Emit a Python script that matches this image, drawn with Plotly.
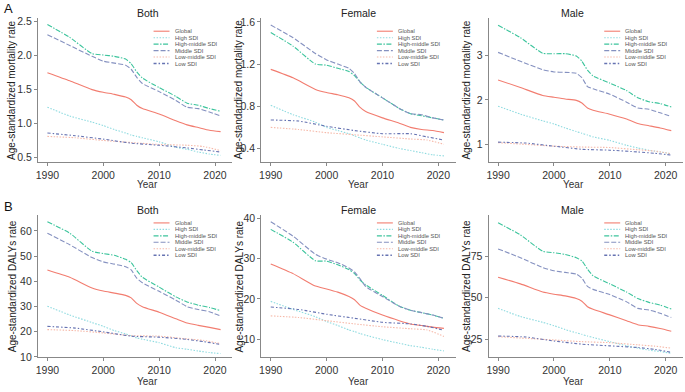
import plotly.graph_objects as go

# ---------------- data ----------------
YEARS = [1990, 1994, 1998, 2000, 2002, 2004, 2005, 2006, 2007, 2010, 2013, 2015, 2017, 2019, 2021]
YEARS_LOW = [1990, 1995, 2000, 2005, 2010, 2015, 2018, 2021]

SERIES = ["Global", "High SDI", "High-middle SDI", "Middle SDI", "Low-middle SDI", "Low SDI"]
PANEL_TITLES = ["Both", "Female", "Male", "Both", "Female", "Male"]
X_TICKS = [1990, 2000, 2010, 2020]

# A: age-standardized mortality rate
mort_both_global = [1.75, 1.63, 1.50, 1.46, 1.43, 1.39, 1.35, 1.27, 1.22, 1.14, 1.04, 0.98, 0.94, 0.90, 0.88]
mort_both_high = [1.24, 1.11, 1.02, 0.97, 0.91, 0.86, 0.83, 0.81, 0.79, 0.73, 0.65, 0.62, 0.58, 0.55, 0.53]
mort_both_highmid = [2.46, 2.27, 2.03, 2.01, 1.99, 1.95, 1.88, 1.76, 1.67, 1.53, 1.40, 1.30, 1.27, 1.22, 1.18]
mort_both_mid = [2.31, 2.15, 1.99, 1.92, 1.89, 1.86, 1.80, 1.68, 1.59, 1.47, 1.34, 1.24, 1.22, 1.17, 1.11]
mort_both_lowmid = [0.81, 0.79, 0.75, 0.72, 0.69, 0.68, 0.66, 0.60]
mort_both_low = [0.86, 0.82, 0.77, 0.71, 0.68, 0.64, 0.61, 0.58]

mort_fem_global = [1.15, 1.07, 0.96, 0.93, 0.91, 0.88, 0.85, 0.79, 0.75, 0.69, 0.64, 0.60, 0.58, 0.57, 0.55]
mort_fem_high = [0.81, 0.72, 0.65, 0.60, 0.57, 0.54, 0.52, 0.50, 0.48, 0.44, 0.40, 0.38, 0.36, 0.34, 0.33]
mort_fem_highmid = [1.50, 1.37, 1.20, 1.19, 1.16, 1.13, 1.09, 1.03, 0.98, 0.88, 0.78, 0.73, 0.71, 0.69, 0.67]
mort_fem_mid = [1.57, 1.45, 1.30, 1.24, 1.20, 1.16, 1.11, 1.03, 0.98, 0.88, 0.78, 0.73, 0.72, 0.69, 0.67]
mort_fem_lowmid = [0.60, 0.58, 0.55, 0.53, 0.51, 0.49, 0.48, 0.44]
mort_fem_low = [0.67, 0.66, 0.61, 0.57, 0.54, 0.54, 0.51, 0.48]

mort_male_global = [2.45, 2.28, 2.10, 2.06, 2.02, 1.99, 1.93, 1.82, 1.77, 1.68, 1.57, 1.47, 1.42, 1.37, 1.31]
mort_male_high = [1.86, 1.68, 1.53, 1.46, 1.37, 1.29, 1.25, 1.21, 1.17, 1.09, 0.98, 0.92, 0.87, 0.83, 0.79]
mort_male_highmid = [3.68, 3.40, 3.05, 3.04, 3.04, 2.99, 2.87, 2.67, 2.54, 2.38, 2.21, 2.05, 1.96, 1.92, 1.84]
mort_male_mid = [3.07, 2.87, 2.68, 2.63, 2.62, 2.60, 2.50, 2.30, 2.25, 2.13, 1.95, 1.82, 1.79, 1.71, 1.63]
mort_male_lowmid = [1.04, 1.00, 0.96, 0.94, 0.93, 0.88, 0.85, 0.79]
mort_male_low = [1.05, 1.03, 0.96, 0.89, 0.87, 0.83, 0.80, 0.76]

# B: age-standardized DALYs rate
daly_both_global = [44.5, 41.6, 37.3, 36.1, 35.3, 34.4, 33.4, 31.2, 29.9, 27.7, 25.1, 23.4, 22.5, 21.7, 20.8]
daly_both_high = [30.1, 26.6, 23.6, 22.1, 20.4, 19.1, 18.3, 17.5, 17.0, 15.6, 13.6, 13.0, 12.3, 11.7, 11.3]
daly_both_highmid = [63.6, 59.1, 51.9, 51.0, 50.3, 48.7, 47.4, 44.2, 41.6, 37.7, 33.8, 31.8, 30.5, 29.6, 28.3]
daly_both_mid = [59.1, 54.5, 49.4, 47.7, 46.8, 45.8, 44.5, 41.2, 39.4, 36.0, 32.5, 29.9, 28.8, 27.9, 26.2]
daly_both_lowmid = [20.8, 20.4, 19.5, 18.4, 18.2, 17.1, 16.5, 15.2]
daly_both_low = [22.1, 21.4, 19.9, 18.2, 17.8, 16.9, 16.0, 14.9]

daly_fem_global = [28.7, 26.3, 23.2, 22.5, 21.7, 20.6, 19.8, 18.4, 17.7, 16.0, 14.6, 13.8, 13.4, 13.0, 12.7]
daly_fem_high = [19.4, 17.4, 15.6, 14.4, 13.4, 12.3, 11.9, 11.4, 11.0, 9.9, 9.0, 8.4, 8.0, 7.5, 7.1]
daly_fem_highmid = [37.3, 34.1, 29.5, 29.4, 28.5, 27.3, 26.3, 24.7, 23.5, 20.9, 18.2, 17.2, 16.6, 16.0, 15.2]
daly_fem_mid = [39.2, 35.6, 31.1, 29.9, 29.0, 27.7, 26.7, 25.0, 23.1, 20.6, 18.2, 17.2, 16.6, 16.0, 15.2]
daly_fem_lowmid = [15.8, 15.4, 14.6, 13.8, 13.1, 12.6, 12.3, 10.7]
daly_fem_low = [18.0, 17.4, 16.2, 15.2, 14.2, 13.8, 13.2, 12.2]

daly_male_global = [62.3, 58.3, 53.4, 52.1, 51.1, 49.5, 47.9, 44.6, 43.0, 39.7, 36.2, 33.8, 32.8, 31.5, 29.9]
daly_male_high = [43.6, 38.7, 35.2, 33.2, 30.9, 28.9, 28.0, 27.0, 26.1, 23.6, 21.1, 19.7, 18.5, 17.7, 16.6]
daly_male_highmid = [95.0, 87.7, 77.9, 77.0, 76.0, 74.0, 72.1, 67.2, 63.2, 58.3, 53.4, 49.5, 47.2, 45.6, 43.2]
daly_male_mid = [79.3, 74.0, 68.1, 66.2, 65.2, 64.2, 61.7, 56.8, 55.0, 51.9, 47.5, 43.6, 42.6, 40.7, 38.1]
daly_male_lowmid = [26.6, 25.6, 24.6, 23.6, 23.0, 21.7, 20.9, 19.7]
daly_male_low = [27.0, 26.4, 24.0, 22.1, 21.1, 20.1, 19.0, 17.2]

Y_TICKS = [
    [0.5, 1.0, 1.5, 2.0, 2.5],
    [0.4, 0.8, 1.2, 1.6],
    [1, 2, 3],
    [10, 20, 30, 40, 50, 60],
    [10, 20, 30, 40],
    [25, 50, 75],
]
Y_TICK_TEXT = [
    ["0.5", "1.0", "1.5", "2.0", "2.5"],
    ["0.4", "0.8", "1.2", "1.6"],
    ["1", "2", "3"],
    ["10", "20", "30", "40", "50", "60"],
    ["10", "20", "30", "40"],
    ["25", "50", "75"],
]
Y_TITLES = ["Age-standardized mortality rate"] * 3 + ["Age-standardized DALYs rate"] * 3

PANELS = [
    [mort_both_global, mort_both_high, mort_both_highmid, mort_both_mid, mort_both_lowmid, mort_both_low],
    [mort_fem_global, mort_fem_high, mort_fem_highmid, mort_fem_mid, mort_fem_lowmid, mort_fem_low],
    [mort_male_global, mort_male_high, mort_male_highmid, mort_male_mid, mort_male_lowmid, mort_male_low],
    [daly_both_global, daly_both_high, daly_both_highmid, daly_both_mid, daly_both_lowmid, daly_both_low],
    [daly_fem_global, daly_fem_high, daly_fem_highmid, daly_fem_mid, daly_fem_lowmid, daly_fem_low],
    [daly_male_global, daly_male_high, daly_male_highmid, daly_male_mid, daly_male_lowmid, daly_male_low],
]

# ---------------- styles ----------------
COLORS = ["#f27d70", "#8fdbe0", "#3cc49c", "#8591c0", "#f6b9a9", "#6673b2"]
DASHES = ["solid", "1.5px,1.5px", "5px,1.5px,1.5px,1.5px", "5px,2px", "1.5px,1.5px", "3px,2px,1.5px,2px"]
W, H = 685, 392
FONT = "Liberation Sans, Arial, sans-serif"

Y_RANGES = [[0.43, 2.56], [0.27, 1.64], [0.6, 3.85], [9.8, 66.2], [5.5, 40.8], [14.2, 99.5]]
X_RANGE = [1988.3, 2023.1]

COLS_PX = [(36, 231), (260, 455), (488, 683)]
ROWS_PX = [(15, 162.5), (216.7, 361.7)]
YEAR_OFFSET = [23, 25]


def px_x(p):
    return p / W


def px_y(p):
    return 1 - p / H


fig = go.Figure()
annotations = []
shapes = []
layout_axes = {}

for i in range(6):
    r, c = divmod(i, 3)
    x0, x1 = COLS_PX[c]
    y0, y1 = ROWS_PX[r]
    n = "" if i == 0 else str(i + 1)
    xa, ya = "x" + n, "y" + n
    for s in range(6):
        xs = YEARS if s < 4 else YEARS_LOW
        fig.add_trace(go.Scatter(
            x=xs, y=PANELS[i][s], mode="lines", name=SERIES[s],
            line=dict(color=COLORS[s], width=1.1, dash=DASHES[s], shape="spline", smoothing=0.5),
            xaxis=xa, yaxis=ya, showlegend=False, hoverinfo="skip",
        ))
    axis_common = dict(
        showline=True, linecolor="#888888", linewidth=1, ticks="outside", ticklen=3,
        tickcolor="#888888", showgrid=False, zeroline=False,
        tickfont=dict(family=FONT, size=10.5, color="#333333"),
    )
    layout_axes["xaxis" + n] = dict(
        domain=[px_x(x0), px_x(x1)], anchor=ya, range=X_RANGE,
        tickvals=X_TICKS, **axis_common,
    )
    layout_axes["yaxis" + n] = dict(
        domain=[px_y(y1), px_y(y0)], anchor=xa, range=Y_RANGES[i],
        tickvals=Y_TICKS[i], ticktext=Y_TICK_TEXT[i], **axis_common,
    )
    # panel title
    annotations.append(dict(
        text=PANEL_TITLES[i], x=px_x((x0 + x1) / 2), y=px_y(y0 - 5), xref="paper", yref="paper",
        showarrow=False, font=dict(family=FONT, size=10.5, color="#222222"), yanchor="middle",
    ))
    # x title
    annotations.append(dict(
        text="Year", x=px_x((x0 + x1) / 2), y=px_y(y1 + YEAR_OFFSET[r]), xref="paper", yref="paper",
        showarrow=False, font=dict(family=FONT, size=10, color="#333333"), yanchor="middle",
    ))
    # y title
    ytx = [10, 238, 466][c]
    annotations.append(dict(
        text=Y_TITLES[i], x=px_x(ytx), y=px_y((y0 + y1) / 2), xref="paper", yref="paper",
        showarrow=False, textangle=-90, font=dict(family=FONT, size=10, color="#222222"),
        xanchor="center", yanchor="middle",
    ))
    # custom compact legend
    lx = x0 + 116
    ly0 = y0 + (13.8 if r == 0 else 7.8)
    for s in range(6):
        yy = ly0 + s * 6.6
        shapes.append(dict(
            type="line", xref="paper", yref="paper",
            x0=px_x(lx), x1=px_x(lx + 16), y0=px_y(yy), y1=px_y(yy),
            line=dict(color=COLORS[s], width=1.1 if s != 5 else 1.6, dash=DASHES[s]),
        ))
        annotations.append(dict(
            text=SERIES[s], x=px_x(lx + 19), y=px_y(yy), xref="paper", yref="paper",
            showarrow=False, xanchor="left", yanchor="middle",
            font=dict(family=FONT, size=5.8, color="#555555"),
        ))

annotations.append(dict(text="A", x=px_x(0), y=px_y(5.5), xref="paper", yref="paper", showarrow=False,
                        xanchor="left", yanchor="middle", font=dict(family=FONT, size=13, color="#111111")))
annotations.append(dict(text="B", x=px_x(0), y=px_y(208), xref="paper", yref="paper", showarrow=False,
                        xanchor="left", yanchor="middle", font=dict(family=FONT, size=13, color="#111111")))

fig.update_layout(
    width=W, height=H, margin=dict(l=0, r=0, t=0, b=0),
    paper_bgcolor="white", plot_bgcolor="white", showlegend=False,
    annotations=annotations, shapes=shapes, font=dict(family=FONT),
    hovermode=False,
    **layout_axes,
)

fig.write_html("out.html", config={"displayModeBar": False},
               post_script="document.body.style.margin='0';document.body.style.padding='0';")
